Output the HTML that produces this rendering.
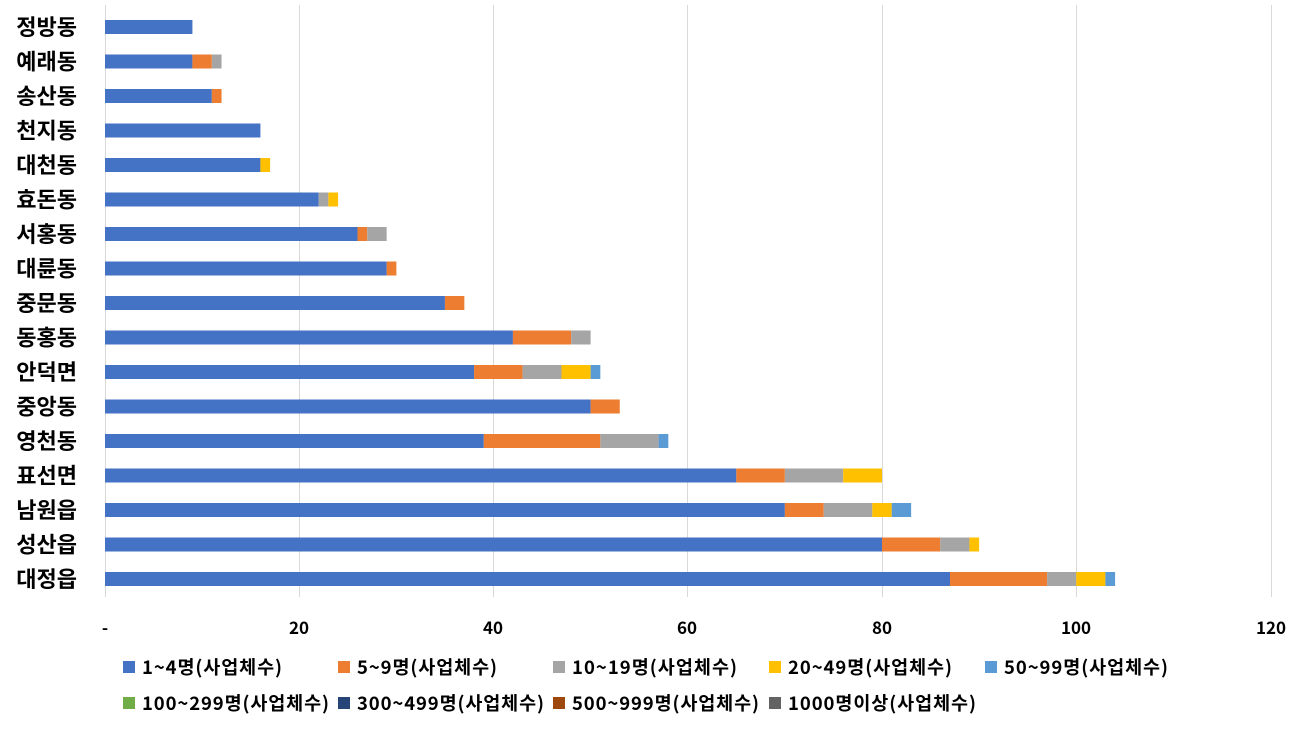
<!DOCTYPE html>
<html><head><meta charset="utf-8"><style>
body{margin:0;background:#fff;}
svg text{font-family:"Noto Sans CJK KR","Liberation Sans",sans-serif;}
</style></head><body>
<svg width="1307" height="727" viewBox="0 0 1307 727" xmlns="http://www.w3.org/2000/svg">
<g stroke="#d9d9d9" stroke-width="1">
<line x1="105.5" y1="5" x2="105.5" y2="597"/>
<line x1="299.5" y1="5" x2="299.5" y2="597"/>
<line x1="493.5" y1="5" x2="493.5" y2="597"/>
<line x1="687.5" y1="5" x2="687.5" y2="597"/>
<line x1="882.5" y1="5" x2="882.5" y2="597"/>
<line x1="1076.5" y1="5" x2="1076.5" y2="597"/>
<line x1="1271.5" y1="5" x2="1271.5" y2="597"/>
</g>
<g id="bars"></g>
<g font-size="17" fill="#000" text-anchor="middle" font-weight="bold">
<text x="105" y="634">-</text><text x="299" y="634">20</text><text x="493" y="634">40</text><text x="687" y="634">60</text><text x="882" y="634">80</text><text x="1076" y="634">100</text><text x="1271" y="634">120</text>
</g>
<g font-size="18.5" fill="#000" font-weight="bold">
<rect x="123" y="661" width="12" height="12" fill="#4472C4"/><text x="142" y="674" textLength="140">1~4명(사업체수)</text>
<rect x="338" y="661" width="12" height="12" fill="#ED7D31"/><text x="357" y="674" textLength="140">5~9명(사업체수)</text>
<rect x="553" y="661" width="12" height="12" fill="#A5A5A5"/><text x="572" y="674" textLength="165">10~19명(사업체수)</text>
<rect x="769" y="661" width="12" height="12" fill="#FFC000"/><text x="788" y="674" textLength="164">20~49명(사업체수)</text>
<rect x="985" y="661" width="12" height="12" fill="#5B9BD5"/><text x="1004" y="674" textLength="164">50~99명(사업체수)</text>
<rect x="123" y="697" width="12" height="12" fill="#70AD47"/><text x="142" y="710" textLength="187">100~299명(사업체수)</text>
<rect x="338" y="697" width="12" height="12" fill="#264478"/><text x="357" y="710" textLength="187">300~499명(사업체수)</text>
<rect x="553" y="697" width="12" height="12" fill="#9E480E"/><text x="572" y="710" textLength="187">500~999명(사업체수)</text>
<rect x="769" y="697" width="12" height="12" fill="#636363"/><text x="788" y="710" textLength="188">1000명이상(사업체수)</text>
</g>
<script>
const d=[["정방동",[9]],["예래동",[9,2,1]],["송산동",[11,1]],["천지동",[16]],["대천동",[16,0,0,1]],["효돈동",[22,0,1,1]],["서홍동",[26,1,2]],["대륜동",[29,1]],["중문동",[35,2]],["동홍동",[42,6,2]],["안덕면",[38,5,4,3,1]],["중앙동",[50,3]],["영천동",[39,12,6,0,1]],["표선면",[65,5,6,4]],["남원읍",[70,4,5,2,2]],["성산읍",[80,6,3,1]],["대정읍",[87,10,3,3,1]]];
const c=["#4472C4","#ED7D31","#A5A5A5","#FFC000","#5B9BD5"];
const s=9.7125,ns="http://www.w3.org/2000/svg",g=document.getElementById("bars");
d.forEach((r,i)=>{const y=27+i*34.5;let x=105;
 const t=document.createElementNS(ns,"text");t.setAttribute("x",77);t.setAttribute("y",y+8);t.setAttribute("text-anchor","end");t.setAttribute("font-size","22");t.setAttribute("font-weight","bold");t.textContent=r[0];g.appendChild(t);
 r[1].forEach((v,j)=>{if(!v)return;const e=document.createElementNS(ns,"rect");e.setAttribute("x",x);e.setAttribute("y",y-7);e.setAttribute("width",v*s);e.setAttribute("height",14);e.setAttribute("fill",c[j]);g.appendChild(e);x+=v*s;});
});
</script>
</svg>
</body></html>
